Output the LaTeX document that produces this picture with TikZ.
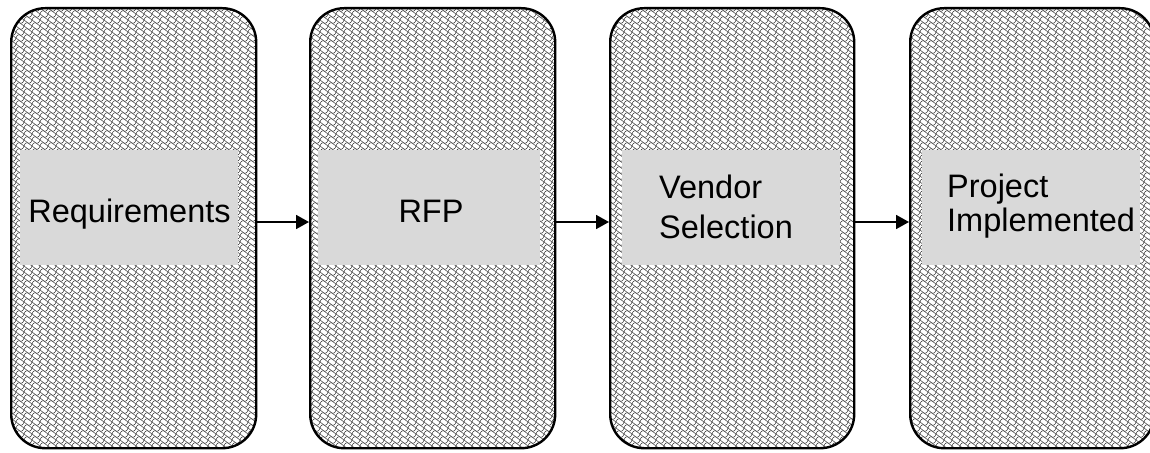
\documentclass[tikz,border=0pt]{standalone}
\usepackage{fontspec}
\setmainfont{Liberation Sans}
\usetikzlibrary{patterns,arrows.meta}
\pgfdeclarepatternformonly{scales}{\pgfqpoint{-1pt}{-1pt}}{\pgfqpoint{9pt}{7pt}}{\pgfqpoint{8pt}{6pt}}{%
  \pgfsetlinewidth{0.45pt}
  \pgfpathmoveto{\pgfqpoint{0pt}{0pt}}
  \pgfpathcurveto{\pgfqpoint{1pt}{3.5pt}}{\pgfqpoint{3pt}{3.5pt}}{\pgfqpoint{4pt}{3pt}}
  \pgfpathcurveto{\pgfqpoint{5pt}{2.5pt}}{\pgfqpoint{7pt}{2.5pt}}{\pgfqpoint{8pt}{6pt}}
  \pgfpathmoveto{\pgfqpoint{0pt}{6pt}}
  \pgfpathcurveto{\pgfqpoint{1pt}{5pt}}{\pgfqpoint{3pt}{4pt}}{\pgfqpoint{4pt}{3pt}}
  \pgfpathcurveto{\pgfqpoint{5pt}{2pt}}{\pgfqpoint{7pt}{1pt}}{\pgfqpoint{8pt}{0pt}}
  \pgfusepath{stroke}
}
\tikzset{
  x=1pt, y=-1pt,
  stage/.style={draw=black, line width=2.4pt, rounded corners=34pt, pattern=scales, pattern color=black!85,
    minimum height=440pt, anchor=north west, inner sep=0pt},
  lbl/.style={fill=black!15, inner sep=0pt, minimum height=115pt, anchor=north west},
  txt/.style={font=\fontsize{32.5}{39}\selectfont, inner sep=0pt},
  flow/.style={-{Triangle[length=13pt,width=14pt]}, line width=1.8pt},
}
\begin{document}
\begin{tikzpicture}
\useasboundingbox (0,0) rectangle (1150,452);
\node[stage, minimum width=245pt] (s1) at (10,7) {};
\node[stage, minimum width=245pt] (s2) at (309,7) {};
\node[stage, minimum width=244pt] (s3) at (609,7) {};
\node[stage, minimum width=244pt] (s4) at (909,7) {};
\node[lbl, minimum width=218pt] (l1) at (20,150) {};
\node[txt, anchor=base] (t1) at (129.5,222) {Requirements};
\node[lbl, minimum width=222pt] (l2) at (318,150) {};
\node[txt, anchor=base] (t2) at (431,222) {RFP};
\node[lbl, minimum width=218pt] (l3) at (622,150) {};
\node[txt, anchor=base west] (t3a) at (659,198) {Vendor};
\node[txt, anchor=base west] (t3b) at (659,238) {Selection};
\node[lbl, minimum width=218pt] (l4) at (922,150) {};
\node[txt, anchor=base west] (t4a) at (947,197) {Project};
\node[txt, anchor=base west] (t4b) at (947,231) {Implemented};
\draw[flow] (s1.east |- 0,222) -- (s2.west |- 0,222);
\draw[flow] (s2.east |- 0,222) -- (s3.west |- 0,222);
\draw[flow] (s3.east |- 0,222) -- (s4.west |- 0,222);
\end{tikzpicture}
\end{document}
